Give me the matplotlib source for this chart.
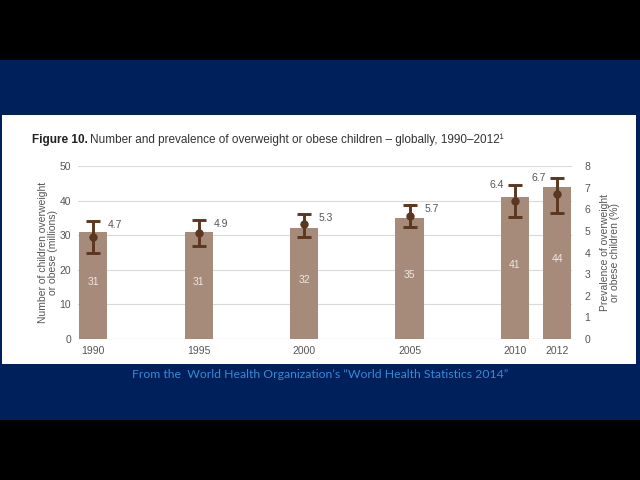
import numpy as np
import matplotlib
matplotlib.use('Agg')
import matplotlib.pyplot as plt
from matplotlib.patches import Rectangle

years = [1990, 1995, 2000, 2005, 2010, 2012]
year_labels = ['1990', '1995', '2000', '2005', '2010', '2012']
children_millions = [31, 31, 32, 35, 41, 44]
prevalence = [4.7, 4.9, 5.3, 5.7, 6.4, 6.7]
prev_low = [4.0, 4.3, 4.7, 5.2, 5.65, 5.85]
prev_high = [5.45, 5.5, 5.8, 6.2, 7.1, 7.45]

bar_col = '#a68b7b'
err_col = '#5b3620'
txt_col = '#555555'

plt.rcParams['font.family'] = ['Liberation Sans', 'DejaVu Sans']

fig = plt.figure(figsize=(6.4, 4.8), dpi=100)
fig.patch.set_facecolor('black')

# slide background + white picture panel
fig.patches.append(Rectangle((0, 0.125), 1, 0.75, transform=fig.transFigure,
                             facecolor='#00205b', edgecolor='none', zorder=-10))
fig.patches.append(Rectangle((0.003, 0.242), 0.991, 0.519, transform=fig.transFigure,
                             facecolor='white', edgecolor='none', zorder=-9))

ax = fig.add_axes([0.122, 0.2937, 0.772, 0.3604])
ax.set_facecolor('none')
ax.bar(years, children_millions, width=1.33, color=bar_col, zorder=2)
ax.set_xlim(1989.29, 2012.71)
ax.set_ylim(0, 50)
ax.set_yticks(np.arange(0, 51, 10))
ax.set_xticks(years)
ax.set_xticklabels(year_labels)
ax.grid(axis='y', color='#d9d9d9', linewidth=0.8, zorder=0)
ax.set_axisbelow(True)
for s in ax.spines.values():
    s.set_visible(False)
ax.axhline(0, color='#cccccc', linewidth=0.8, zorder=1)
ax.tick_params(length=0, labelsize=7.5, labelcolor=txt_col, pad=5)
ax.set_ylabel('Number of children overweight\nor obese (millions)', fontsize=7.5,
              color=txt_col, labelpad=1, linespacing=1.0)

for x, v in zip(years, children_millions):
    ax.text(x, v / 2 + 1, str(v), ha='center', va='center', fontsize=7.5,
            color='#efe6e0', zorder=3)

ax2 = ax.twinx()
ax2.set_ylim(0, 8)
ax2.set_yticks(np.arange(0, 9, 1))
for s in ax2.spines.values():
    s.set_visible(False)
ax2.tick_params(length=0, labelsize=7.5, labelcolor=txt_col, pad=9)
ax2.set_ylabel('Prevalence of overweight\nor obese children (%)', fontsize=7.5,
               color=txt_col, labelpad=7, linespacing=1.0)

prev = np.array(prevalence)
yerr = [prev - np.array(prev_low), np.array(prev_high) - prev]
ax2.errorbar(years, prev, yerr=yerr, fmt='o', color=err_col, ecolor=err_col,
             markersize=5, elinewidth=2.1, capsize=5, capthick=2.1, zorder=4)

for x, p, hi in zip(years, prevalence, prev_high):
    if x >= 2010:
        ax2.annotate(f'{p}', (x, hi), xytext=(-13, 0), textcoords='offset points',
                     ha='center', va='center', fontsize=7.5, color=txt_col)
    else:
        ax2.annotate(f'{p}', (x, hi), xytext=(16, -3), textcoords='offset points',
                     ha='center', va='center', fontsize=7.5, color=txt_col)

fig.text(0.05, 0.708, 'Figure 10.', fontsize=8.5, color='#222222', va='center',
         fontweight='bold')
fig.text(0.141, 0.708, 'Number and prevalence of overweight or obese children \u2013 globally, 1990\u20132012\u00b9',
         fontsize=8.5, color='#333333', va='center')

fig.text(0.5, 0.219, 'From the  World Health Organization\u2019s \u201cWorld Health Statistics 2014\u201d',
         fontsize=8.8, color='#3a87d4', ha='center', va='center',
         family=['Lato', 'DejaVu Sans'])

fig.savefig('out.png', dpi=100, facecolor=fig.get_facecolor())
